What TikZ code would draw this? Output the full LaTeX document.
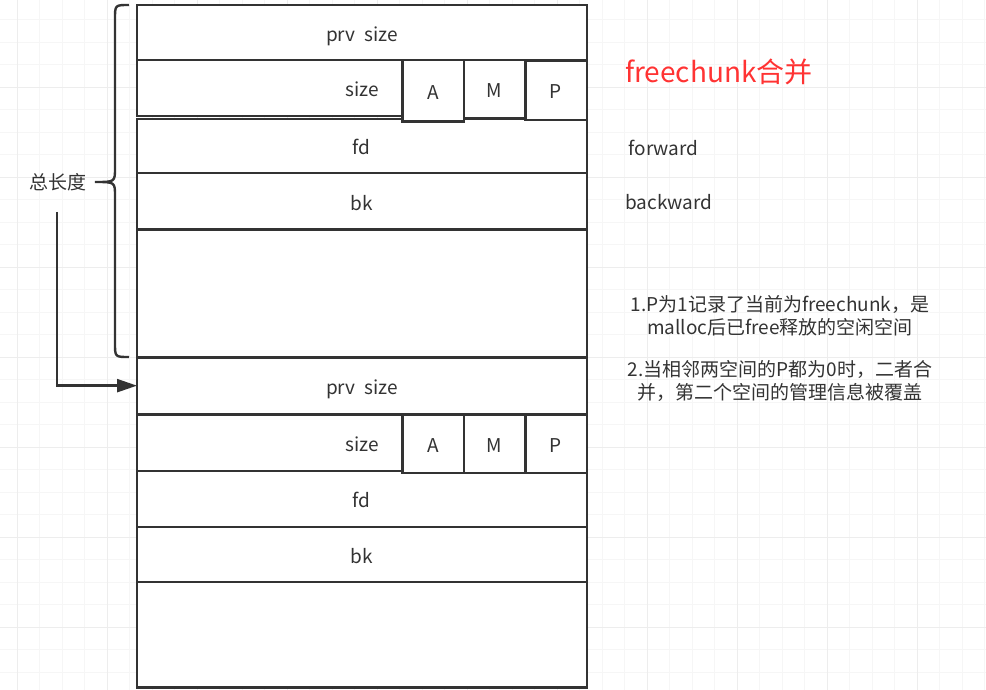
\documentclass[tikz,border=0pt]{standalone}
\usepackage{fontspec}
\setmainfont{Noto Sans CJK SC}
\usepackage{tikz}
\usetikzlibrary{arrows.meta}
\definecolor{ink}{HTML}{333333}
\definecolor{titlered}{HTML}{FF3333}

\begin{document}
\begin{tikzpicture}[x=1pt, y=-1pt, line width=2.4pt, draw=ink, text=ink,
		font=\fontsize{19}{23.5}\selectfont,
		>={Triangle[length=20pt,width=13pt]},
		row/.style={draw=ink, fill=white, anchor=north west, minimum width=449.7, inner sep=0pt, outer sep=0pt, text height=18pt, text depth=0pt},
		flag/.style={draw=ink, fill=white, anchor=north west, minimum width=61.4, inner sep=0pt, outer sep=0pt, text height=17pt, text depth=0pt},
		gridminor/.style={line width=1pt, draw=gray!7},
		gridmajor/.style={line width=1pt, draw=gray!14}]
		\useasboundingbox (0,0) rectangle (986,690);
		% background grid
		\foreach \gx in {17.3,39.8,...,986} \draw[gridminor] (\gx,0) -- (\gx,690);
		\foreach \gy in {19.8,42.3,...,690} \draw[gridminor] (0,\gy) -- (986,\gy);
		\foreach \gx in {17.3,107.3,...,986} \draw[gridmajor] (\gx,0) -- (\gx,690);
		\foreach \gy in {87.3,177.3,...,690} \draw[gridmajor] (0,\gy) -- (986,\gy);
		% first chunk
		\begin{scope}
			\node[row, minimum height=55] (prvA) at (137,5) {prv\ \ size};
			\node[row, minimum height=56] (sizeA) at (137,60) {size};
			\node[row, minimum height=54] (fdA) at (137,119) {fd};
			\node[row, minimum height=56.5] (bkA) at (137,173) {bk};
			\node[row, minimum height=127.8] (freeA) at (137,229.5) {};
			\node[flag, minimum height=61.5] (aA) at (402.5,60) {A};
			\node[flag, minimum height=58] (mA) at (aA.north east) {M};
			\node[flag, minimum height=59, yshift=-1] (pA) at (mA.north east) {P};
		\end{scope}
		% second chunk
		\begin{scope}
			\node[row, minimum height=56.7] (prvB) at (137,357.3) {prv\ \ size};
			\node[row, minimum height=55.7] (sizeB) at (137,415) {size};
			\node[row, minimum height=56] (fdB) at (137,470.7) {fd};
			\node[row, minimum height=55.3] (bkB) at (137,526.7) {bk};
			\node[row, minimum height=105.3] (restB) at (137,582) {};
			\node[flag, minimum height=57.7] (aB) at (402.5,415) {A};
			\node[flag, minimum height=57.7] (mB) at (aB.north east) {M};
			\node[flag, minimum height=57.7] (pB) at (mB.north east) {P};
		\end{scope}
		% brace over the whole first chunk
		\draw[ink] (129,5) .. controls (115,5) .. (115,19) -- (115,168)
			.. controls (115,182) .. (95,182) .. controls (115,182) .. (115,196)
			-- (115,343) .. controls (115,357) .. (129,357);
		\node (len) at (57.5,182) {总长度};
		\coordinate (lenfoot) at (57,212);
		\draw[->, ink] (lenfoot) |- (prvB.west);
		% notes on the right
		\node[text=titlered, font=\fontsize{28}{34}\selectfont] (title) at (719,72) {freechunk合并};
		\node[anchor=west] (fwd) at (624,148) {forward};
		\node[anchor=west] (bwd) at (621,202) {backward};
		\node[align=center] (noteA) at (780,316) {1.P为1记录了当前为freechunk，是\\malloc后已free释放的空闲空间};
		\node[align=center] (noteB) at (780,381) {2.当相邻两空间的P都为0时，二者合\\并，第二个空间的管理信息被覆盖};
	\end{tikzpicture}
\end{document}
